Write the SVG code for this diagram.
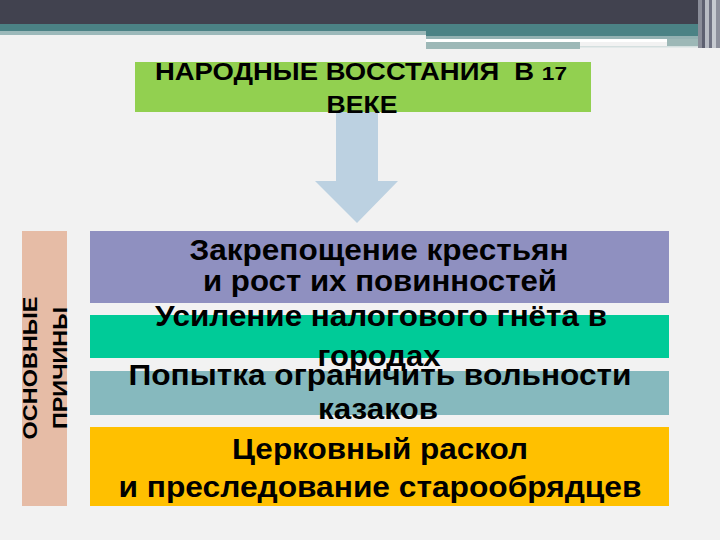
<svg xmlns="http://www.w3.org/2000/svg" width="720" height="540" viewBox="0 0 720 540">
  <style>
    .t { font-family: "Liberation Sans", Arial, sans-serif; font-weight: bold; fill: #000000; text-anchor: middle; }
    .b { font-size: 29px; }
    .h { font-size: 23px; }
    .s { font-size: 21px; }
  </style>
  <rect x="0" y="0" width="720" height="540" fill="#f2f2f2"/>
  <g id="header-band">
    <rect x="0" y="0" width="720" height="24" fill="#41424f"/>
    <rect x="0" y="24" width="720" height="7" fill="#4b8285"/>
    <rect x="0" y="31" width="426" height="4" fill="#9cb9ba"/>
    <rect x="426" y="24" width="272" height="12" fill="#4b8285"/>
    <rect x="426" y="36" width="272" height="3" fill="#93b1b2"/>
    <rect x="426" y="39" width="241" height="3" fill="#ffffff"/>
    <rect x="426" y="42" width="154" height="7" fill="#9db8b7"/>
    <rect x="667" y="39" width="31" height="8" fill="#9db8b7"/>
    <rect x="580" y="46" width="118" height="1.5" fill="#d4dfdf"/>
    <rect x="698" y="0" width="4" height="48" fill="#8a8d99"/>
    <rect x="702" y="0" width="3" height="48" fill="#5d6070"/>
    <rect x="705" y="0" width="4" height="48" fill="#b8bcc4"/>
    <rect x="709" y="0" width="3" height="48" fill="#6f7282"/>
    <rect x="712" y="0" width="4" height="48" fill="#c6cad0"/>
    <rect x="716" y="0" width="4" height="48" fill="#8d909c"/>
  </g>
  <g id="connectors">
    <polygon points="336,112 378,112 378,181 398,181 357,223 315,181 336,181" fill="#bcd1e1"/>
  </g>
  <g id="title">
    <rect x="135" y="62" width="456" height="50" fill="#92d050"/>
    <text class="t h" x="361" y="80" xml:space="preserve" textLength="412" lengthAdjust="spacingAndGlyphs">НАРОДНЫЕ ВОССТАНИЯ  В <tspan font-size="19">17</tspan></text>
    <text class="t h" x="362" y="113" textLength="71" lengthAdjust="spacingAndGlyphs">ВЕКЕ</text>
  </g>
  <g id="label-causes">
    <rect x="22" y="231" width="45" height="275" fill="#e6bca6"/>
    <text class="t s" transform="translate(37,368) rotate(-90)" x="0" y="0" textLength="143" lengthAdjust="spacingAndGlyphs">ОСНОВНЫЕ</text>
    <text class="t s" transform="translate(67,368) rotate(-90)" x="0" y="0" textLength="122" lengthAdjust="spacingAndGlyphs">ПРИЧИНЫ</text>
  </g>
  <g id="cause-1">
    <rect x="90" y="231" width="579" height="72" fill="#8f90c0"/>
    <text class="t b" x="379" y="260" textLength="379" lengthAdjust="spacingAndGlyphs">Закрепощение крестьян</text>
    <text class="t b" x="380" y="291" textLength="354" lengthAdjust="spacingAndGlyphs">и рост их повинностей</text>
  </g>
  <g id="cause-2">
    <rect x="90" y="315" width="579" height="43" fill="#00cb98"/>
    <text class="t b" x="381" y="326" textLength="452" lengthAdjust="spacingAndGlyphs">Усиление налогового гнёта в</text>
    <text class="t b" x="379" y="366" textLength="123" lengthAdjust="spacingAndGlyphs">городах</text>
  </g>
  <g id="cause-3">
    <rect x="90" y="371" width="579" height="44" fill="#86b9be"/>
    <text class="t b" x="380" y="385" textLength="503" lengthAdjust="spacingAndGlyphs">Попытка ограничить вольности</text>
    <text class="t b" x="378" y="419" textLength="120" lengthAdjust="spacingAndGlyphs">казаков</text>
  </g>
  <g id="cause-4">
    <rect x="90" y="427" width="579" height="79" fill="#ffc000"/>
    <text class="t b" x="380" y="459" textLength="296" lengthAdjust="spacingAndGlyphs">Церковный раскол</text>
    <text class="t b" x="380" y="497" textLength="523" lengthAdjust="spacingAndGlyphs">и преследование старообрядцев</text>
  </g>
</svg>
